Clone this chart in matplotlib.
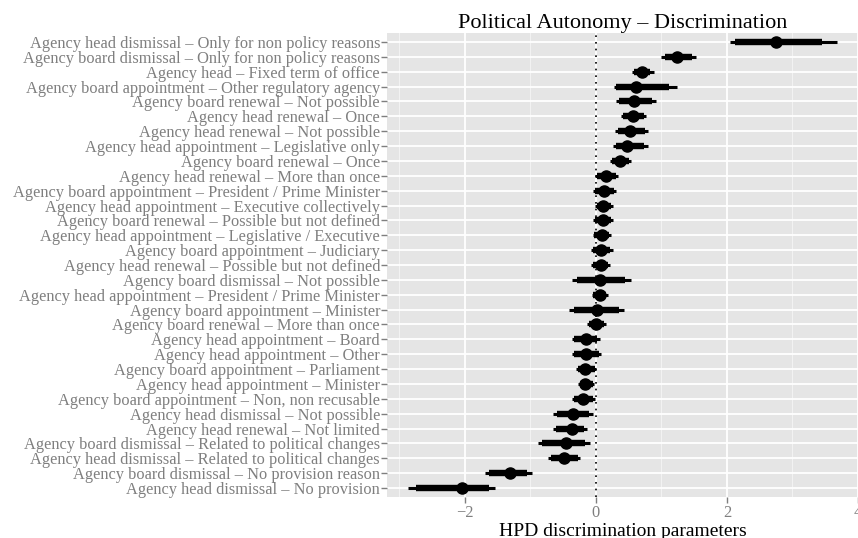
import matplotlib
matplotlib.use("Agg")
import matplotlib.pyplot as plt
from matplotlib.ticker import MultipleLocator

# parameters, listed top to bottom as they appear on the chart
labels = [
    "Agency head dismissal – Only for non policy reasons",
    "Agency board dismissal – Only for non policy reasons",
    "Agency head – Fixed term of office",
    "Agency board appointment – Other regulatory agency",
    "Agency board renewal – Not possible",
    "Agency head renewal – Once",
    "Agency head renewal – Not possible",
    "Agency head appointment – Legislative only",
    "Agency board renewal – Once",
    "Agency head renewal – More than once",
    "Agency board appointment – President / Prime Minister",
    "Agency head appointment – Executive collectively",
    "Agency board renewal – Possible but not defined",
    "Agency head appointment – Legislative / Executive",
    "Agency board appointment – Judiciary",
    "Agency head renewal – Possible but not defined",
    "Agency board dismissal – Not possible",
    "Agency head appointment – President / Prime Minister",
    "Agency board appointment – Minister",
    "Agency board renewal – More than once",
    "Agency head appointment – Board",
    "Agency head appointment – Other",
    "Agency board appointment – Parliament",
    "Agency head appointment – Minister",
    "Agency board appointment – Non, non recusable",
    "Agency head dismissal – Not possible",
    "Agency head renewal – Not limited",
    "Agency board dismissal – Related to political changes",
    "Agency head dismissal – Related to political changes",
    "Agency board dismissal – No provision reason",
    "Agency head dismissal – No provision",
]

estimate = [2.75, 1.23, 0.70, 0.61, 0.58, 0.56, 0.52, 0.48, 0.37, 0.16, 0.12,
            0.11, 0.11, 0.09, 0.08, 0.07, 0.06, 0.06, 0.01, 0.00, -0.15, -0.15,
            -0.16, -0.16, -0.19, -0.35, -0.37, -0.45, -0.49, -1.31, -2.04]
lo_outer = [2.05, 1.00, 0.55, 0.27, 0.30, 0.38, 0.29, 0.26, 0.21, -0.01, -0.05,
            -0.01, -0.04, -0.05, -0.07, -0.07, -0.36, -0.06, -0.41, -0.13, -0.36,
            -0.36, -0.30, -0.28, -0.36, -0.65, -0.65, -0.89, -0.73, -1.70, -2.87]
hi_outer = [3.68, 1.52, 0.88, 1.23, 0.92, 0.76, 0.79, 0.79, 0.53, 0.34, 0.30,
            0.26, 0.26, 0.23, 0.26, 0.22, 0.53, 0.18, 0.43, 0.16, 0.06, 0.07,
            0.00, -0.03, -0.02, -0.04, -0.14, -0.09, -0.24, -0.97, -1.54]
lo_inner = [2.13, 1.05, 0.58, 0.30, 0.35, 0.41, 0.33, 0.30, 0.25, 0.02, -0.02,
            0.01, -0.01, -0.03, -0.04, -0.04, -0.29, -0.04, -0.33, -0.10, -0.33,
            -0.33, -0.27, -0.25, -0.33, -0.59, -0.61, -0.82, -0.69, -1.63, -2.74]
hi_inner = [3.45, 1.46, 0.83, 1.11, 0.85, 0.73, 0.75, 0.73, 0.50, 0.30, 0.27,
            0.23, 0.23, 0.20, 0.22, 0.19, 0.45, 0.16, 0.35, 0.13, 0.02, 0.04,
            -0.02, -0.05, -0.05, -0.10, -0.18, -0.16, -0.28, -1.05, -1.63]

x_ticks = [-2, 0, 2, 4]

plt.rcParams["font.family"] = ["Liberation Serif", "DejaVu Serif"]

fig = plt.figure(figsize=(8.58, 5.38), dpi=100)
ax = fig.add_axes([0.451, 0.0762, 0.549, 0.8625])

n = len(labels)
ypos = [n - i for i in range(n)]

ax.set_facecolor("#E5E5E5")
ax.grid(True, which="major", color="white", linewidth=1.3)
ax.grid(True, which="minor", axis="x", color="#F2F2F2", linewidth=0.8)
ax.set_axisbelow(True)

ax.axvline(0, color="black", linestyle=(0, (1, 3)), linewidth=1.2, zorder=2)

ax.hlines(ypos, lo_outer, hi_outer, color="black", linewidth=2.2, zorder=3)
ax.hlines(ypos, lo_inner, hi_inner, color="black", linewidth=4.6, zorder=3)
ax.plot(estimate, ypos, "o", color="black", markersize=8, zorder=4)

ax.set_xlim(-3.19, 4.0)
ax.set_ylim(0.4, n + 0.6)
ax.set_xticks(x_ticks)
ax.set_xticklabels(["\u22122", "0", "2", "4"])
ax.xaxis.set_minor_locator(MultipleLocator(1))
ax.set_yticks(ypos)
ax.set_yticklabels(labels)

for s in ax.spines.values():
    s.set_visible(False)
ax.tick_params(axis="both", which="major", colors="#7F7F7F", labelsize=11.8,
               length=4, width=1, pad=2)
ax.tick_params(axis="x", which="minor", length=0)
ax.tick_params(axis="y", pad=1)

ax.set_title("Political Autonomy – Discrimination", fontsize=16, pad=1)
ax.set_xlabel("HPD discrimination parameters", fontsize=14, labelpad=1)

fig.savefig("out.png", dpi=100)
